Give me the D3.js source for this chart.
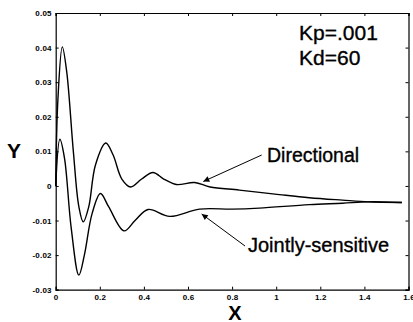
<!DOCTYPE html>
<html>
<head>
<meta charset="utf-8">
<script src="https://cdn.jsdelivr.net/npm/d3@7"></script>
<style>
  body { margin: 0; background: #fff; }
  svg { display: block; font-family: "Liberation Sans", Arial, sans-serif; }
</style>
</head>
<body>
<div id="chart"></div>
<script>
// values
const dirX = [0, 0.01, 0.03, 0.05, 0.08, 0.105, 0.125, 0.15, 0.18, 0.227, 0.26, 0.30, 0.34, 0.39, 0.441, 0.49, 0.547, 0.63, 0.70, 0.833, 1.014, 1.15, 1.3, 1.42, 1.57];
const dirY = [0, 0.025, 0.0402, 0.033, 0.010, -0.006, -0.0104, -0.006, 0.006, 0.0124, 0.009, 0.002, -0.0003, 0.002, 0.0039, 0.002, 0.0004, 0.001, -0.0003, -0.0012, -0.0025, -0.0034, -0.0041, -0.0046, -0.0048];

const jointX = [0, 0.019, 0.04, 0.07, 0.105, 0.13, 0.165, 0.203, 0.24, 0.31, 0.36, 0.419, 0.517, 0.652, 0.8, 0.923, 1.15, 1.3, 1.42, 1.57];
const jointY = [0, 0.0135, 0.008, -0.012, -0.0258, -0.02, -0.008, -0.0022, -0.006, -0.0130, -0.010, -0.0068, -0.0088, -0.0067, -0.0067, -0.0064, -0.0054, -0.005, -0.0046, -0.0048];

const xTicks = [0, 0.2, 0.4, 0.6, 0.8, 1, 1.2, 1.4, 1.6];
const yTicks = [-0.03, -0.02, -0.01, 0, 0.01, 0.02, 0.03, 0.04, 0.05];

const width = 413;
const height = 322;
const margin = {top: 13, right: 4.5, bottom: 32.3, left: 55.7};

const svg = d3.select('#chart')
    .append('svg')
    .attr('width', width)
    .attr('height', height);

const x = d3.scaleLinear().domain([0, 1.6]).range([margin.left, width - margin.right]);
const y = d3.scaleLinear().domain([-0.03, 0.05]).range([height - margin.bottom, margin.top]);

// box + inner ticks on all sides (matlab look)
const fmt = d => d === 0 ? '0' : String(d);

svg.append('g')
    .attr('transform', `translate(0,${y(-0.03)})`)
    .call(d3.axisBottom(x).tickValues(xTicks).tickSize(-3).tickPadding(5).tickFormat(fmt));
svg.append('g')
    .attr('transform', `translate(0,${y(0.05)})`)
    .call(d3.axisTop(x).tickValues(xTicks).tickSize(-3).tickFormat(''));
svg.append('g')
    .attr('transform', `translate(${x(0)},0)`)
    .call(d3.axisLeft(y).tickValues(yTicks).tickSize(-3).tickPadding(4).tickFormat(fmt));
svg.append('g')
    .attr('transform', `translate(${x(1.6)},0)`)
    .call(d3.axisRight(y).tickValues(yTicks).tickSize(-3).tickFormat(''));

svg.selectAll('.domain').attr('stroke', '#000').attr('stroke-width', 1.2);
svg.selectAll('.tick line').attr('stroke', '#000');
svg.selectAll('.tick text')
    .attr('fill', '#000')
    .style('font-size', '8px')
    .style('font-weight', 'bold')
    .style('letter-spacing', '0.2px');

// curves
const line = d3.line()
    .x(d => x(d[0]))
    .y(d => y(d[1]))
    .curve(d3.curveCatmullRom.alpha(0.5));

svg.append('path')
    .datum(d3.zip(dirX, dirY))
    .attr('d', line)
    .attr('fill', 'none')
    .attr('stroke', '#000')
    .attr('stroke-width', 1.4);

svg.append('path')
    .datum(d3.zip(jointX, jointY))
    .attr('d', line)
    .attr('fill', 'none')
    .attr('stroke', '#000')
    .attr('stroke-width', 1.4);

// arrows
svg.append('defs').append('marker')
    .attr('id', 'head')
    .attr('viewBox', '0 0 10 10')
    .attr('refX', 10).attr('refY', 5)
    .attr('markerWidth', 7).attr('markerHeight', 6)
    .attr('markerUnits', 'userSpaceOnUse')
    .attr('orient', 'auto')
    .append('path')
    .attr('d', 'M0,0L10,5L0,10z')
    .attr('fill', '#000');

const arrows = [
    [261.7, 155, 203.3, 181.5],
    [245, 246, 201.7, 214]
];
svg.selectAll('.arrow')
    .data(arrows)
    .enter()
    .append('line')
    .attr('class', 'arrow')
    .attr('x1', d => d[0]).attr('y1', d => d[1])
    .attr('x2', d => d[2]).attr('y2', d => d[3])
    .attr('stroke', '#000')
    .attr('stroke-width', 1)
    .attr('marker-end', 'url(#head)');

// labels
const label = (t, px, py, size, weight, anchor) => svg.append('text')
    .attr('x', px).attr('y', py)
    .attr('text-anchor', anchor || 'start')
    .attr('stroke', '#000')
    .attr('stroke-width', weight === 'bold' ? 0 : 0.35)
    .style('font-size', size + 'px')
    .style('font-weight', weight || 'normal')
    .text(t);

label('Directional', 267, 161.7, 19.5);
label('Jointly-sensitive', 248, 251.7, 20);
label('Kp=.001', 299, 40, 21);
label('Kd=60', 299, 65, 21);
label('Y', 14, 158, 21, 'bold', 'middle');
label('X', 235, 320, 20, 'bold', 'middle');
</script>
</body>
</html>
